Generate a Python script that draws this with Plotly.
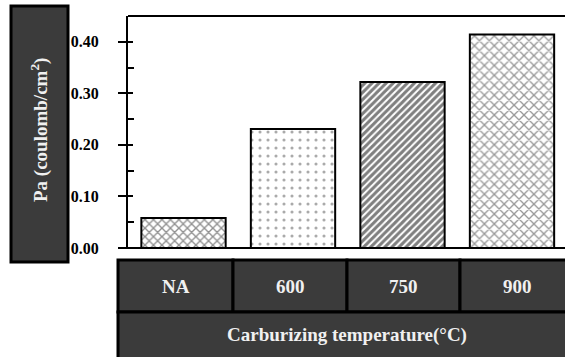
import plotly.graph_objects as go

categories = ["NA", "600", "750", "900"]
pa_values = [0.058, 0.231, 0.322, 0.414]
y_ticks = [0.0, 0.1, 0.2, 0.3, 0.4]
y_tick_labels = ["0.00", "0.10", "0.20", "0.30", "0.40"]
x_title = "Carburizing temperature(°C)"
y_title = "Pa (coulomb/cm<sup>2</sup>)"

W, H = 565, 357
L, R, T, B = 128, 0, 16, 109
PW, PH = W - L - R, H - T - B

def px(xp):
    return (xp - L) / PW

def py(yp):
    return (H - B - yp) / PH

FONT = "Liberation Serif"
DARK = "#3b3b3b"

fig = go.Figure()
fig.add_trace(go.Bar(
    x=list(range(len(categories))),
    y=pa_values,
    width=0.77,
    marker=dict(
        color="white",
        line=dict(color="black", width=2),
        pattern=dict(
            shape=["x", ".", "/", "x"],
            size=[6, 8, 5, 7],
            solidity=[0.4, 0.12, 0.6, 0.35],
            fgcolor=["#222222", "#555555", "black", "#333333"],
            bgcolor="white",
            fillmode="overlay",
        ),
    ),
    showlegend=False,
))

fig.add_trace(go.Scatter(x=[0], y=[0], yaxis="y2", mode="markers",
                         marker=dict(opacity=0), showlegend=False, hoverinfo="skip"))

shapes = []
shapes.append(dict(type="line", xref="paper", yref="paper", x0=0, x1=1.02, y0=1, y1=1,
                   line=dict(color="black", width=2)))
shapes.append(dict(type="line", xref="paper", yref="paper", x0=px(120), x1=1.02, y0=0, y1=0,
                   line=dict(color="black", width=2)))

shapes.append(dict(type="rect", xref="paper", yref="paper", x0=px(11), x1=px(68),
                   y0=py(262), y1=py(6), fillcolor=DARK, line=dict(color="black", width=3),
                   layer="above"))

col_edges = [118, 233, 347, 460, 580]
row1 = (260, 312)
row2 = (312, 362)
annotations = []
for i, cat in enumerate(categories):
    x0, x1 = col_edges[i], col_edges[i + 1]
    shapes.append(dict(type="rect", xref="paper", yref="paper", x0=px(x0), x1=px(x1),
                       y0=py(row1[1]), y1=py(row1[0]), fillcolor=DARK,
                       line=dict(color="black", width=3), layer="above"))
    annotations.append(dict(text=f"<b>{cat}</b>", xref="paper", yref="paper",
                            x=px((x0 + min(x1, 575)) / 2), y=py((row1[0] + row1[1]) / 2),
                            showarrow=False, font=dict(family=FONT, size=19, color="#f0f0f0"),
                            xanchor="center", yanchor="middle"))
shapes.append(dict(type="rect", xref="paper", yref="paper", x0=px(col_edges[0]), x1=px(col_edges[-1]),
                   y0=py(row2[1]), y1=py(row2[0]), fillcolor=DARK,
                   line=dict(color="black", width=3), layer="above"))
annotations.append(dict(text=f"<b>{x_title}</b>", xref="paper", yref="paper",
                        x=px((col_edges[0] + 575) / 2), y=py(335),
                        showarrow=False, font=dict(family=FONT, size=19, color="#f0f0f0"),
                        xanchor="center", yanchor="middle"))
annotations.append(dict(text=f"<b>{y_title}</b>", xref="paper", yref="paper",
                        x=px(39), y=py(130), textangle=-90,
                        showarrow=False, font=dict(family=FONT, size=19, color="#f0f0f0"),
                        xanchor="center", yanchor="middle"))

fig.update_layout(
    width=W, height=H,
    margin=dict(l=L, r=R, t=T, b=B, pad=0),
    paper_bgcolor="white", plot_bgcolor="white",
    shapes=shapes, annotations=annotations,
    xaxis=dict(range=[-0.507, 3.484], showticklabels=False, ticks="", showgrid=False,
               zeroline=False, showline=False),
    yaxis=dict(range=[0, 0.45], tickvals=y_ticks, ticktext=y_tick_labels,
               ticks="outside", ticklen=8, tickwidth=1.5, tickcolor="black",
               showline=True, linewidth=2, linecolor="black", showgrid=False, zeroline=False,
               tickfont=dict(family=FONT, size=16, color="black", weight="bold"),
               ticklabelstandoff=16,
               minor=dict(tickvals=[0.05, 0.15, 0.25, 0.35], ticks="inside", ticklen=6,
                          tickwidth=1.5, tickcolor="black")),
    yaxis2=dict(range=[0, 0.45], overlaying="y", side="left", anchor="x",
                tickvals=y_ticks, ticks="inside", ticklen=5, tickwidth=1.5, tickcolor="black",
                showticklabels=False, showgrid=False, zeroline=False, showline=False),
)

fig.write_html("out.html")
